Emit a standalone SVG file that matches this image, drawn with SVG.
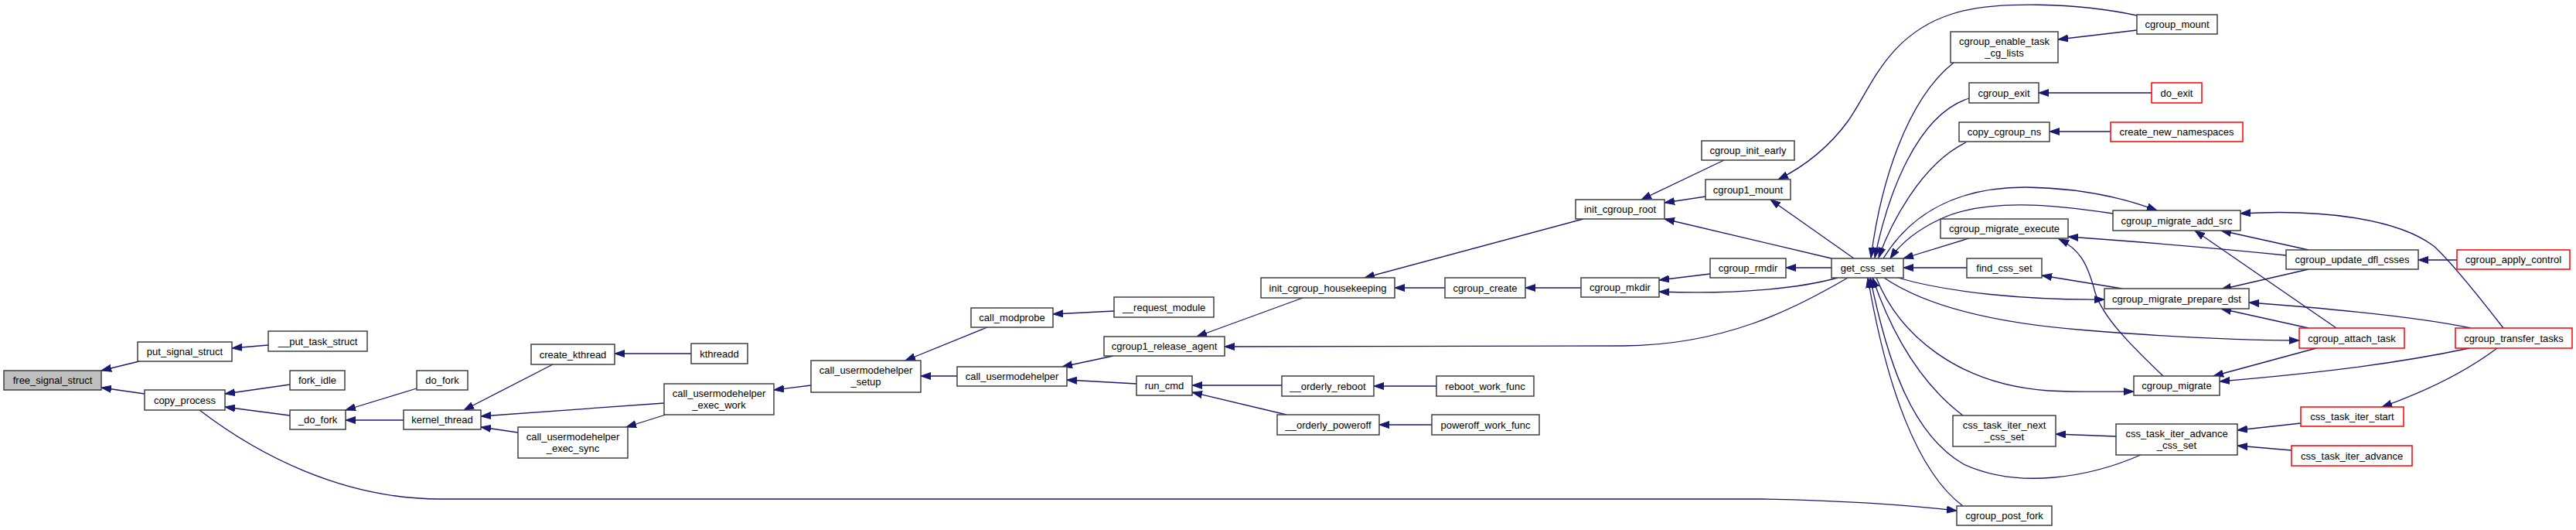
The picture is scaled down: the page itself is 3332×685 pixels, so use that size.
<svg xmlns="http://www.w3.org/2000/svg" width="3332" height="685" viewBox="0 0 3332 685">
<style>
.n rect{fill:#fff;stroke:#404040;stroke-width:1.5}
.n.r rect{stroke:#ff0000}
.n.root rect{fill:#bfbfbf}
text{font-family:"Liberation Sans",Arial,Helvetica,sans-serif;font-size:13px;text-anchor:middle;fill:#000}
.e path{fill:none;stroke:#191970;stroke-width:1.3;marker-end:url(#a)}
</style>
<defs>
<marker id="a" markerUnits="userSpaceOnUse" markerWidth="14" markerHeight="10" refX="13" refY="5" orient="auto">
<path d="M0,0.5 L13,5 L0,9.5 z" fill="#191970" stroke="#191970" stroke-width="1"/>
</marker>
</defs>
<rect width="3332" height="685" fill="#fff"/>
<g id="edges" class="e">
<path d="M180,467 L131,479"/>
<path d="M187,509 L131,501"/>
<path d="M347,446 L300,450"/>
<path d="M375,497 L291,509"/>
<path d="M375,537 L291,526"/>
<path d="M258,530 C330,585 440,645 570,645 L2280,645 C2390,647 2470,653 2531,660"/>
<path d="M539,502 L447,530"/>
<path d="M522,543 L447,543"/>
<path d="M715,471 L600,530"/>
<path d="M894,457 L795,457"/>
<path d="M859,521 L622,538"/>
<path d="M670,559 L622,552"/>
<path d="M861,536 L810,552"/>
<path d="M1049,498 L1001,504"/>
<path d="M1277,423 L1171,466"/>
<path d="M1441,402 L1362,406"/>
<path d="M1238,486 L1191,486"/>
<path d="M1440,460 L1374,474"/>
<path d="M1470,496 L1380,491"/>
<path d="M1685,385 L1548,435"/>
<path d="M1658,498 L1542,498"/>
<path d="M1664,536 L1542,507"/>
<path d="M1858,499 L1777,499"/>
<path d="M1852,549 L1784,549"/>
<path d="M1869,372 L1804,372"/>
<path d="M2045,372 L1973,372"/>
<path d="M2048,283 L1765,359"/>
<path d="M2230,207 L2123,258"/>
<path d="M2206,254 L2153,262"/>
<path d="M2369,334 L2153,283"/>
<path d="M2398,334 L2290,258"/>
<path d="M2764,20 C2690,4 2580,0 2525,18 C2440,45 2420,115 2390,157 C2362,195 2330,217 2300,232"/>
<path d="M2764,39 L2662,51"/>
<path d="M2527,81 C2465,130 2432,240 2420,333"/>
<path d="M2547,127 C2480,148 2442,250 2425,333"/>
<path d="M2543,184 C2485,212 2445,290 2430,333"/>
<path d="M2436,334 C2475,270 2540,242 2620,242 C2690,243 2745,255 2790,272"/>
<path d="M2733,276 C2660,265 2570,255 2510,283 C2480,297 2458,315 2445,334"/>
<path d="M2547,308 L2462,334"/>
<path d="M2544,346 L2462,346"/>
<path d="M2369,346 L2310,346"/>
<path d="M2377,359 C2330,372 2250,381 2146,377"/>
<path d="M2212,354 L2146,362"/>
<path d="M2390,359 C2320,400 2230,446 2100,447 L1584,448"/>
<path d="M2455,359 C2520,378 2620,388 2722,387"/>
<path d="M2437,359 C2490,395 2580,418 2700,427 C2800,435 2900,440 2974,440"/>
<path d="M2427,359 C2455,430 2530,497 2650,505 C2690,507 2730,506 2760,506"/>
<path d="M2539,537 C2490,500 2450,440 2422,359"/>
<path d="M2539,654 C2480,610 2440,500 2416,359"/>
<path d="M2769,588 C2700,618 2610,632 2540,600 C2470,560 2440,460 2419,359"/>
<path d="M2798,486 C2755,445 2720,410 2710,378 C2700,340 2690,322 2663,309"/>
<path d="M2783,120 L2637,120"/>
<path d="M2730,170 L2651,170"/>
<path d="M2745,373 L2641,356"/>
<path d="M2957,330 C2880,322 2760,312 2675,306"/>
<path d="M2986,323 L2873,298"/>
<path d="M2986,348 L2873,374"/>
<path d="M3178,336 L3128,336"/>
<path d="M3022,424 L2839,298"/>
<path d="M2986,424 L2873,399"/>
<path d="M2996,450 L2863,486"/>
<path d="M3238,424 C3200,375 3170,338 3148,318 C3100,282 3000,270 2898,276"/>
<path d="M3196,424 C3130,410 3030,400 2909,391"/>
<path d="M3194,450 C3100,470 3000,482 2871,493"/>
<path d="M3230,450 C3190,480 3140,505 3081,526"/>
<path d="M2976,547 L2894,556"/>
<path d="M2964,582 L2894,576"/>
<path d="M2737,564 L2659,561"/>
</g>
<g id="free_signal_struct" class="n root"><rect x="5" y="479" width="126" height="25"/><text x="68" y="496">free_signal_struct</text></g>
<g id="put_signal_struct" class="n"><rect x="178" y="442" width="122" height="25"/><text x="239" y="459">put_signal_struct</text></g>
<g id="__put_task_struct" class="n"><rect x="347" y="428" width="128" height="26"/><text x="411" y="445.5">__put_task_struct</text></g>
<g id="copy_process" class="n"><rect x="187" y="504" width="104" height="26"/><text x="239" y="521.5">copy_process</text></g>
<g id="fork_idle" class="n"><rect x="375" y="479" width="71" height="25"/><text x="410.5" y="496">fork_idle</text></g>
<g id="_do_fork" class="n"><rect x="375" y="530" width="72" height="25"/><text x="411" y="547">_do_fork</text></g>
<g id="do_fork" class="n"><rect x="539" y="479" width="66" height="25"/><text x="572" y="496">do_fork</text></g>
<g id="kernel_thread" class="n"><rect x="522" y="530" width="100" height="25"/><text x="572" y="547">kernel_thread</text></g>
<g id="create_kthread" class="n"><rect x="687" y="445" width="108" height="26"/><text x="741" y="462.5">create_kthread</text></g>
<g id="kthreadd" class="n"><rect x="894" y="444" width="73" height="26"/><text x="930.5" y="461.5">kthreadd</text></g>
<g id="call_usermodehelper_exec_work" class="n"><rect x="859" y="496" width="142" height="40"/><text x="930" y="512.5">call_usermodehelper</text><text x="930" y="527.5">_exec_work</text></g>
<g id="call_usermodehelper_exec_sync" class="n"><rect x="670" y="552" width="142" height="40"/><text x="741" y="568.5">call_usermodehelper</text><text x="741" y="583.5">_exec_sync</text></g>
<g id="call_usermodehelper_setup" class="n"><rect x="1049" y="466" width="142" height="41"/><text x="1120" y="482.5">call_usermodehelper</text><text x="1120" y="497.5">_setup</text></g>
<g id="call_modprobe" class="n"><rect x="1256" y="398" width="106" height="25"/><text x="1309" y="415">call_modprobe</text></g>
<g id="__request_module" class="n"><rect x="1441" y="384" width="129" height="26"/><text x="1505.5" y="401.5">__request_module</text></g>
<g id="call_usermodehelper" class="n"><rect x="1238" y="474" width="142" height="25"/><text x="1309" y="491">call_usermodehelper</text></g>
<g id="cgroup1_release_agent" class="n"><rect x="1428" y="435" width="156" height="25"/><text x="1506" y="452">cgroup1_release_agent</text></g>
<g id="run_cmd" class="n"><rect x="1470" y="486" width="72" height="25"/><text x="1506" y="503">run_cmd</text></g>
<g id="init_cgroup_housekeeping" class="n"><rect x="1631" y="359" width="173" height="26"/><text x="1717.5" y="376.5">init_cgroup_housekeeping</text></g>
<g id="cgroup_create" class="n"><rect x="1869" y="359" width="104" height="26"/><text x="1921" y="376.5">cgroup_create</text></g>
<g id="__orderly_reboot" class="n"><rect x="1658" y="486" width="119" height="26"/><text x="1717.5" y="503.5">__orderly_reboot</text></g>
<g id="reboot_work_func" class="n"><rect x="1858" y="486" width="126" height="26"/><text x="1921" y="503.5">reboot_work_func</text></g>
<g id="__orderly_poweroff" class="n"><rect x="1652" y="536" width="132" height="26"/><text x="1718" y="553.5">__orderly_poweroff</text></g>
<g id="poweroff_work_func" class="n"><rect x="1852" y="536" width="139" height="26"/><text x="1921.5" y="553.5">poweroff_work_func</text></g>
<g id="init_cgroup_root" class="n"><rect x="2038" y="258" width="115" height="25"/><text x="2095.5" y="275">init_cgroup_root</text></g>
<g id="cgroup_init_early" class="n"><rect x="2201" y="182" width="120" height="25"/><text x="2261" y="199">cgroup_init_early</text></g>
<g id="cgroup1_mount" class="n"><rect x="2206" y="232" width="110" height="26"/><text x="2261" y="249.5">cgroup1_mount</text></g>
<g id="cgroup_mkdir" class="n"><rect x="2045" y="359" width="101" height="25"/><text x="2095.5" y="376">cgroup_mkdir</text></g>
<g id="cgroup_rmdir" class="n"><rect x="2212" y="334" width="98" height="25"/><text x="2261" y="351">cgroup_rmdir</text></g>
<g id="get_css_set" class="n"><rect x="2369" y="334" width="93" height="25"/><text x="2415.5" y="351">get_css_set</text></g>
<g id="cgroup_enable_task_cg_lists" class="n"><rect x="2523" y="41" width="139" height="40"/><text x="2592.5" y="57.5">cgroup_enable_task</text><text x="2592.5" y="72.5">_cg_lists</text></g>
<g id="cgroup_exit" class="n"><rect x="2547" y="107" width="90" height="26"/><text x="2592" y="124.5">cgroup_exit</text></g>
<g id="copy_cgroup_ns" class="n"><rect x="2534" y="158" width="117" height="25"/><text x="2592.5" y="175">copy_cgroup_ns</text></g>
<g id="cgroup_mount" class="n"><rect x="2764" y="19" width="104" height="25"/><text x="2816" y="36">cgroup_mount</text></g>
<g id="do_exit" class="n r"><rect x="2783" y="107" width="65" height="26"/><text x="2815.5" y="124.5">do_exit</text></g>
<g id="create_new_namespaces" class="n r"><rect x="2730" y="158" width="171" height="25"/><text x="2815.5" y="175">create_new_namespaces</text></g>
<g id="cgroup_migrate_execute" class="n"><rect x="2510" y="283" width="165" height="25"/><text x="2592.5" y="300">cgroup_migrate_execute</text></g>
<g id="find_css_set" class="n"><rect x="2544" y="334" width="97" height="25"/><text x="2592.5" y="351">find_css_set</text></g>
<g id="cgroup_migrate_add_src" class="n"><rect x="2733" y="272" width="165" height="26"/><text x="2815.5" y="289.5">cgroup_migrate_add_src</text></g>
<g id="cgroup_migrate_prepare_dst" class="n"><rect x="2722" y="373" width="187" height="26"/><text x="2815.5" y="390.5">cgroup_migrate_prepare_dst</text></g>
<g id="cgroup_update_dfl_csses" class="n"><rect x="2957" y="323" width="171" height="25"/><text x="3042.5" y="340">cgroup_update_dfl_csses</text></g>
<g id="cgroup_apply_control" class="n r"><rect x="3178" y="323" width="146" height="25"/><text x="3251" y="340">cgroup_apply_control</text></g>
<g id="cgroup_attach_task" class="n r"><rect x="2974" y="424" width="136" height="26"/><text x="3042" y="441.5">cgroup_attach_task</text></g>
<g id="cgroup_transfer_tasks" class="n r"><rect x="3176" y="424" width="151" height="26"/><text x="3251.5" y="441.5">cgroup_transfer_tasks</text></g>
<g id="cgroup_migrate" class="n"><rect x="2760" y="486" width="111" height="25"/><text x="2815.5" y="503">cgroup_migrate</text></g>
<g id="css_task_iter_next_css_set" class="n"><rect x="2526" y="537" width="133" height="40"/><text x="2592.5" y="553.5">css_task_iter_next</text><text x="2592.5" y="568.5">_css_set</text></g>
<g id="css_task_iter_advance_css_set" class="n"><rect x="2737" y="548" width="157" height="40"/><text x="2815.5" y="564.5">css_task_iter_advance</text><text x="2815.5" y="579.5">_css_set</text></g>
<g id="css_task_iter_start" class="n r"><rect x="2976" y="526" width="133" height="25"/><text x="3042.5" y="543">css_task_iter_start</text></g>
<g id="css_task_iter_advance" class="n r"><rect x="2964" y="576" width="156" height="26"/><text x="3042" y="593.5">css_task_iter_advance</text></g>
<g id="cgroup_post_fork" class="n"><rect x="2531" y="654" width="123" height="25"/><text x="2592.5" y="671">cgroup_post_fork</text></g>
</svg>
